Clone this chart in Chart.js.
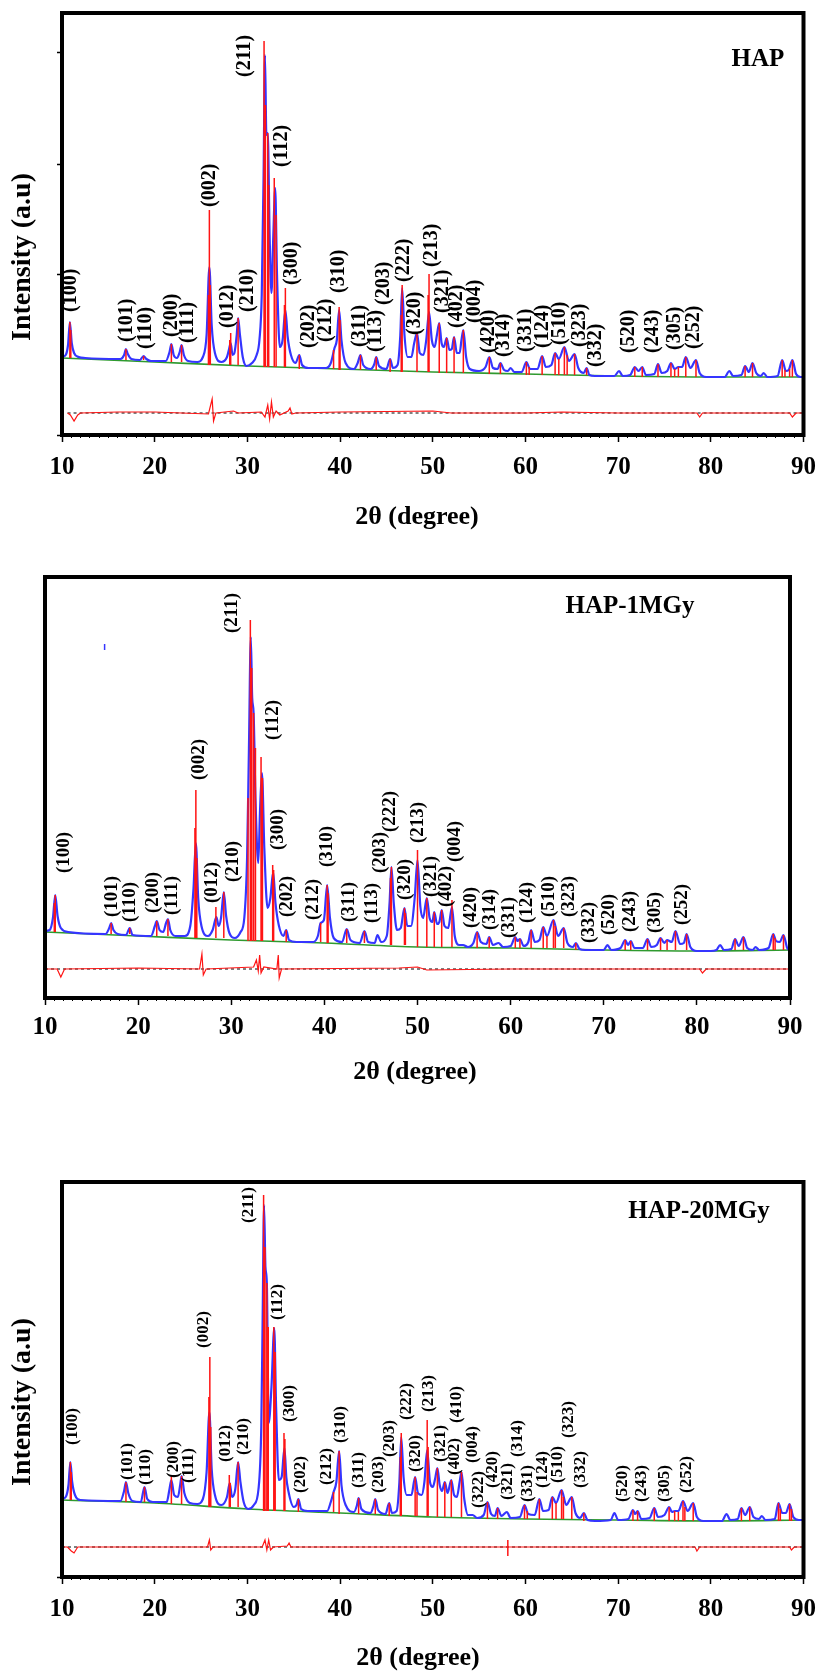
<!DOCTYPE html>
<html>
<head>
<meta charset="utf-8">
<script src="https://cdn.jsdelivr.net/npm/chart.js@4.4.1/dist/chart.umd.min.js"></script>
<style>
  html, body { margin: 0; padding: 0; background: #fff; }
  #wrap { position: relative; width: 827px; height: 1671px; }
  canvas { position: absolute; left: 0; }
</style>
</head>
<body>
<div id="wrap">
  <canvas id="c1" width="827" height="545" style="top:0"></canvas>
  <canvas id="c2" width="827" height="545" style="top:545px"></canvas>
  <canvas id="c3" width="827" height="581" style="top:1090px"></canvas>
</div>
<script>
'use strict';

// ── Data: HAP ────────────────────────────────────────────────────────────────

const p1Profile = [
  [10.0,78],[10.4,80],[10.65,90],[10.85,113],[11.05,92],[11.3,82],[11.8,78],[12.5,77],
  [16.3,76],[16.7,80],[16.9,86],[17.1,81],[17.5,76],[18.4,75],[18.8,79],[19.1,76],[19.6,74],
  [21.2,74],[21.6,83],[21.8,91],[22.05,80],[22.4,77],[22.7,83],[22.9,90],[23.15,80],[23.6,74],
  [24.6,73],[25.2,78],[25.6,100],[25.9,168],[26.15,110],[26.5,82],[27.2,73],[27.8,78],[28.0,85],
  [28.2,92],[28.4,80],[28.6,82],[28.85,100],[29.0,117],[29.2,100],[29.5,78],[29.9,69],[30.5,72],
  [31.0,80],[31.3,95],[31.55,140],[31.75,260],[31.9,380],[32.05,300],[32.2,302],[32.4,200],
  [32.6,142],[32.8,200],[33.0,247],[33.2,160],[33.5,88],[33.8,95],[34.1,125],[34.35,98],[34.7,80],
  [35.2,72],[35.6,80],[35.9,70],[36.6,67],[38.5,67],[39.0,72],[39.4,87],[39.65,95],[39.9,125],
  [40.15,95],[40.6,72],[41.5,66],[41.9,72],[42.2,80],[42.5,70],[43.3,66],[43.7,71],[43.9,78],
  [44.2,69],[45.0,66],[45.4,76],[45.7,67],[46.2,70],[46.5,100],[46.7,147],[46.95,100],[47.3,78],
  [47.7,78],[48.0,92],[48.3,102],[48.6,82],[49.0,80],[49.3,95],[49.6,123],[49.9,95],[50.2,88],
  [50.45,100],[50.7,112],[50.95,92],[51.2,88],[51.5,97],[51.8,85],[52.05,86],[52.3,98],[52.6,82],
  [52.9,82],[53.1,95],[53.3,105],[53.6,78],[54.0,66],[55.0,64],[55.7,68],[56.1,78],[56.5,67],
  [57.0,66],[57.3,72],[57.7,65],[58.1,64],[58.4,67],[58.8,63],[59.6,63],[60.1,73],[60.5,66],
  [61.3,66],[61.8,79],[62.2,68],[62.8,70],[63.2,82],[63.6,76],[64.2,88],[64.7,74],[65.3,81],
  [65.7,67],[66.3,62],[66.6,67],[66.9,60],[67.5,59],[69.6,59],[70.1,64],[70.5,59],[71.3,60],
  [71.8,68],[72.2,64],[72.6,68],[73.0,60],[73.9,61],[74.3,71],[74.7,62],[75.3,64],[75.7,72],
  [76.1,66],[76.5,68],[76.9,68],[77.3,78],[77.8,67],[78.4,75],[78.8,62],[79.5,58],[81.5,58],
  [82.0,64],[82.4,59],[83.3,60],[83.7,69],[84.1,63],[84.5,72],[84.9,62],[85.4,59],[85.7,62],
  [86.1,58],[87.2,59],[87.7,75],[88.1,64],[88.4,65],[88.8,75],[89.2,61],[89.7,58],[90.0,58]
];
// reflection sticks: [2θ, foot, top]
const p1Sticks = [
  [10.85,77,113],[10.95,77,105],[16.9,75,86],[18.8,75,79],[21.8,73,91],[22.9,73,90],
  [25.8,70,140],[25.9,70,225],[26.0,70,150],[28.1,70,95],[28.2,70,102],[29.0,70,117],
  [31.8,68,394],[31.95,68,330],[32.2,68,302],[32.3,68,250],[32.9,68,257],[33.1,68,220],
  [34.0,68,130],[34.1,68,147],[35.6,66,80],[39.3,66,85],[39.9,65,128],[40.0,65,115],
  [42.2,65,80],[43.9,65,78],[45.4,63,76],[46.6,63,120],[46.7,63,150],[48.3,63,102],
  [49.5,63,140],[49.6,63,161],[50.7,62,112],[51.5,62,97],[52.3,62,98],[53.3,62,105],
  [56.1,61,78],[57.3,61,72],[60.1,60,73],[60.4,60,68],[61.8,60,79],[63.2,60,82],[63.6,60,76],
  [64.2,60,88],[64.5,60,80],[65.3,60,81],[66.6,60,67],[71.8,58,68],[72.6,58,68],[74.3,58,71],
  [75.7,58,72],[76.1,58,66],[76.5,58,68],[77.3,58,78],[78.4,58,75],[83.7,58,69],[84.5,58,72],
  [87.7,58,75],[88.0,58,65],[88.5,58,66],[88.8,58,75]
];
const p1Background = [[10,77],[20,73],[30,69],[40,66],[50,63],[60,61],[70,59],[80,58],[90,58]];
const p1Diff = [
  [10.6,22],[10.9,20],[11.3,14],[11.7,20],[12.0,22],[16,23],[20,23],[25.8,21],[26.2,36],[26.35,14],
  [26.6,22],[28.5,24],[29,22],[31.5,23],[31.9,18],[32.2,30],[32.4,16],[32.6,33],[32.8,18],[33.1,24],
  [33.5,20],[34.4,24],[34.6,27],[34.8,21],[35.2,22],[40,23],[50,24],[52,22],[60,22],[64,23],[70,22],
  [78.5,22],[78.8,18],[79.1,22],[85,22],[88.5,22],[88.8,18],[89.2,22],[90,22]
];
const p1Zero = [[10.6,22],[90,22]];
const p1Hkl  = ['(100)','(101)','(110)','(200)','(111)','(002)','(012)','(210)','(211)','(112)','(300)',
  '(202)','(212)','(310)','(311)','(113)','(203)','(222)','(320)','(213)','(321)','(402)','(004)',
  '(420)','(314)','(331)','(124)','(510)','(323)','(332)','(520)','(243)','(305)','(252)'];
const p1HklX = [10.9,17.0,19.0,21.8,23.6,26.0,27.9,30.0,29.7,33.7,34.8,36.6,38.5,39.9,42.1,43.9,44.7,
  46.9,48.1,49.9,51.1,52.6,54.5,56.1,57.7,60.0,61.9,63.7,65.9,67.6,71.2,73.7,76.1,78.2];
const p1HklY = [123,93,86,98,92,228,107,123,358,268,150,87,93,142,88,83,130,153,100,168,122,107,112,
  82,78,83,87,90,88,68,82,82,85,86];
const p1YTicks = [0,161,271,383];

// ── Data: HAP-1MGy ───────────────────────────────────────────────────────────

const p2Profile = [
  [10.0,67],[10.5,68],[10.85,80],[11.1,103],[11.35,82],[11.7,70],[12.5,66],[16.5,64],[16.9,70],
  [17.1,75],[17.35,68],[17.8,64],[18.7,63],[19.1,70],[19.4,63],[21.4,62],[21.8,72],[22.0,77],
  [22.3,68],[22.7,66],[23.0,75],[23.2,79],[23.45,68],[24.0,62],[25.0,62],[25.6,72],[25.95,110],
  [26.2,155],[26.45,100],[26.8,72],[27.5,62],[28.0,68],[28.4,81],[28.65,72],[28.9,80],[29.2,106],
  [29.45,82],[29.8,65],[30.4,60],[31.0,66],[31.4,80],[31.7,140],[31.9,250],[32.1,361],[32.25,300],
  [32.4,285],[32.6,200],[32.9,135],[33.1,190],[33.3,225],[33.55,150],[33.9,90],[34.2,100],[34.5,126],
  [34.75,95],[35.1,73],[35.6,62],[35.9,68],[36.2,58],[37.0,56],[38.8,56],[39.3,62],[39.6,75],
  [39.95,78],[40.3,113],[40.6,80],[41.0,60],[41.9,56],[42.4,69],[42.8,58],[43.8,55],[44.3,67],
  [44.7,56],[45.4,55],[45.7,63],[46.1,56],[46.7,62],[47.0,95],[47.2,131],[47.45,95],[47.8,68],
  [48.2,70],[48.6,90],[48.9,72],[49.3,72],[49.7,100],[50.0,138],[50.3,92],[50.6,80],[51.0,100],
  [51.3,80],[51.6,76],[51.8,86],[52.1,74],[52.35,76],[52.6,88],[52.9,72],[53.3,70],[53.7,91],
  [54.0,62],[54.5,53],[54.9,53],[55.4,51],[56.0,55],[56.4,66],[56.8,56],[57.4,54],[57.7,61],
  [58.1,53],[58.7,55],[59.2,51],[60.0,52],[60.5,61],[60.75,57],[61.0,59],[61.4,52],[61.9,56],
  [62.2,68],[62.6,56],[63.1,58],[63.5,71],[63.9,62],[64.6,78],[65.1,62],[65.7,70],[66.1,55],
  [66.7,51],[67.0,55],[67.4,49],[68.0,48],[70.0,48],[70.4,53],[70.8,48],[71.8,50],[72.3,58],
  [72.6,53],[72.9,57],[73.3,50],[74.2,50],[74.7,59],[75.1,51],[75.7,53],[76.1,60],[76.5,55],
  [76.8,58],[77.3,56],[77.7,67],[78.2,54],[78.6,55],[78.9,64],[79.3,51],[80.0,47],[81.5,47],
  [82.1,48],[82.5,53],[82.9,48],[83.7,49],[84.1,59],[84.5,52],[85.0,61],[85.4,50],[86.0,48],
  [86.3,51],[86.7,48],[87.7,50],[88.2,64],[88.5,57],[88.9,56],[89.3,63],[89.7,50],[90.0,48]
];
const p2Sticks = [
  [11.0,66,95],[11.1,66,103],[17.1,64,75],[19.1,64,70],[22.0,62,77],[23.2,62,79],[26.1,60,170],
  [26.2,60,208],[26.3,60,140],[28.35,60,91],[29.2,60,106],[31.8,57,200],[32.05,57,378],[32.2,57,330],
  [32.4,57,285],[32.6,57,250],[33.2,57,241],[33.35,57,220],[34.45,57,133],[34.55,57,128],[35.9,56,68],
  [39.6,56,75],[40.3,55,113],[40.4,55,105],[42.4,55,69],[44.3,55,67],[47.1,53,120],[47.2,53,131],
  [48.6,53,90],[48.7,53,85],[50.0,51,148],[51.0,51,100],[51.8,51,86],[52.6,51,88],[53.7,51,98],
  [56.4,50,66],[57.7,50,61],[60.5,50,61],[61.0,50,59],[62.2,50,68],[63.5,50,71],[63.9,50,62],
  [64.6,50,78],[64.8,50,72],[65.7,50,70],[67.0,48,55],[72.3,48,58],[72.9,48,57],[74.7,48,59],
  [76.1,48,60],[76.8,48,58],[77.7,48,67],[78.9,48,64],[84.1,48,59],[85.0,48,61],[88.2,48,64],
  [88.4,48,60],[89.3,48,63]
];
const p2Background = [[10,66],[20,62],[30,58],[40,55],[50,51],[60,50],[70,48],[80,47],[90,48]];
const p2Diff = [
  [10,29],[11.3,29],[11.7,21],[12.1,29],[20,30],[26.6,29],[26.85,44],[27.0,23],[27.3,29],[32.4,31],
  [32.7,38],[32.9,27],[33.05,43],[33.2,25],[33.5,31],[34.9,29],[35.05,43],[35.15,20],[35.4,29],
  [48,30],[50,31],[51,28],[60,29],[70,29],[80.3,29],[80.6,25],[81,29],[90,29]
];
const p2Zero = [[10,29],[90,29]];
const p2Speck = [[16.4,351]];
const p2Hkl  = p1Hkl;
const p2HklX = [12.0,17.2,19.1,21.6,23.7,26.5,27.9,30.2,30.1,34.5,35.0,36.0,38.8,40.3,42.7,45.1,46.0,
  47.1,48.7,50.1,51.5,53.1,54.0,55.8,57.8,59.8,61.8,64.1,66.3,68.4,70.6,72.8,75.5,78.4];
const p2HklY = [125,81,76,85,83,218,95,116,365,258,148,81,78,131,76,75,125,166,98,155,101,91,136,
  70,68,60,75,81,81,55,63,66,65,73];
const p2YTicks = [];

// ── Data: HAP-20MGy ──────────────────────────────────────────────────────────

const p3Profile = [
  [10.0,78],[10.4,80],[10.7,92],[10.9,115],[11.1,95],[11.4,82],[12.0,77],[16.3,76],[16.7,86],
  [16.9,95],[17.15,84],[17.6,76],[18.5,75],[18.9,90],[19.2,78],[19.8,75],[21.3,75],[21.6,88],
  [21.8,97],[22.1,82],[22.5,80],[22.75,92],[22.9,101],[23.2,84],[23.8,74],[24.6,73],[25.2,78],
  [25.6,105],[25.9,165],[26.15,108],[26.5,82],[27.2,72],[27.8,80],[28.1,94],[28.35,80],[28.7,88],
  [29.0,115],[29.25,95],[29.6,75],[30.1,68],[30.7,72],[31.2,88],[31.5,150],[31.65,260],[31.8,372],
  [31.95,310],[32.1,294],[32.3,154],[32.6,190],[32.9,249],[33.1,170],[33.4,97],[33.7,100],[34.0,129],
  [34.2,100],[34.4,87],[35.0,70],[35.3,72],[35.5,78],[35.8,68],[36.5,66],[38.6,66],[39.0,75],
  [39.3,85],[39.6,95],[39.9,126],[40.15,92],[40.6,72],[41.5,65],[41.8,71],[42.0,79],[42.3,68],
  [43.3,64],[43.6,71],[43.8,78],[44.1,67],[44.9,63],[45.3,74],[45.6,64],[46.1,66],[46.4,95],
  [46.6,140],[46.85,100],[47.2,82],[47.7,82],[48.1,100],[48.4,84],[48.8,82],[49.1,95],[49.4,127],
  [49.7,95],[50.0,90],[50.25,98],[50.5,109],[50.75,92],[51.0,86],[51.3,95],[51.6,84],[52.0,97],
  [52.3,82],[52.6,80],[52.9,95],[53.1,105],[53.4,78],[53.8,62],[54.3,62],[54.8,59],[55.5,62],
  [55.9,75],[56.3,63],[56.7,61],[57.0,69],[57.4,61],[58.0,65],[58.4,59],[59.4,60],[59.9,72],
  [60.3,63],[61.0,62],[61.5,78],[61.9,66],[62.5,67],[62.9,80],[63.3,74],[63.9,87],[64.4,72],
  [65.0,80],[65.4,64],[65.9,59],[66.3,64],[66.7,57],[67.5,56],[69.2,57],[69.6,64],[70.0,57],
  [71.1,58],[71.6,67],[71.85,63],[72.1,66],[72.5,58],[73.4,59],[73.9,69],[74.3,60],[75.0,62],
  [75.5,70],[75.8,65],[76.1,66],[76.5,66],[77.0,76],[77.5,66],[78.1,74],[78.5,60],[79.2,56],
  [81.2,56],[81.7,63],[82.1,57],[82.9,58],[83.3,69],[83.7,62],[84.2,70],[84.6,60],[85.2,58],
  [85.5,61],[85.9,57],[86.9,58],[87.3,74],[87.7,64],[88.1,64],[88.5,73],[88.9,60],[89.5,57],[90.0,57]
];
const p3Sticks = [
  [10.9,77,115],[11.0,77,105],[16.9,75,95],[18.9,75,90],[21.8,73,102],[22.9,73,101],[25.85,70,180],
  [25.95,70,220],[26.05,70,150],[28.05,70,102],[28.15,70,94],[29.0,70,115],[31.75,66,382],[31.9,66,330],
  [32.1,66,294],[32.25,66,250],[32.85,66,250],[33.0,66,225],[33.95,66,144],[34.05,66,138],[35.5,65,78],
  [39.3,65,85],[39.9,63,126],[42.0,63,79],[43.8,63,78],[45.3,61,74],[46.5,61,120],[46.6,61,144],
  [48.1,61,100],[48.3,61,85],[49.4,61,157],[49.5,61,130],[50.5,60,109],[51.3,60,95],[52.0,60,97],
  [53.1,60,105],[55.9,58,75],[57.0,58,69],[59.9,58,72],[60.2,58,66],[61.5,58,78],[62.9,58,80],
  [63.3,58,74],[63.9,58,87],[64.1,58,80],[65.0,58,80],[66.3,56,64],[71.6,56,67],[72.1,56,66],
  [73.9,56,69],[75.5,56,70],[76.1,56,66],[76.5,56,65],[77.0,56,76],[77.2,56,70],[78.1,56,74],
  [83.3,56,69],[84.2,56,70],[87.3,56,74],[87.5,56,68],[88.5,56,73],[88.7,56,68]
];
const p3Background = [[10,77],[20,74],[30,68],[40,64],[50,60],[60,58],[70,57],[80,56],[90,57]];
const p3Diff = [
  [10,30],[10.6,30],[11.0,26],[11.3,24],[11.7,30],[25.7,30],[25.9,37],[26.05,27],[26.3,30],[31.6,30],
  [31.9,37],[32.1,27],[32.3,37],[32.5,27],[32.8,30],[34.3,31],[34.5,34],[34.7,30],[50,30],[60,30],
  [78.3,30],[78.5,26],[78.8,30],[88.5,30],[88.7,27],[89,30],[90,30]
];
const p3Zero = [[10,30],[90,30]];
const p3DiffMark = [[58.1,29]];
const p3Hkl  = ['(100)','(101)','(110)','(200)','(111)','(002)','(012)','(210)','(211)','(112)','(300)',
  '(202)','(212)','(310)','(311)','(203)','(203)','(222)','(320)','(213)','(321)','(402)','(410)','(004)',
  '(322)','(420)','(321)','(314)','(331)','(124)','(510)','(323)','(332)','(520)','(243)','(305)','(252)'];
const p3HklX = [11.15,17.1,19.0,22.0,23.7,25.3,27.65,29.55,30.1,33.3,34.6,35.7,38.6,40.05,42.0,44.2,45.3,
  47.2,48.2,49.5,50.9,52.4,52.55,54.3,54.9,56.5,58.1,59.2,60.2,61.9,63.5,64.7,66.0,70.5,72.5,75.0,77.35];
const p3HklY = [132,97,92,99,94,229,115,122,354,257,155,84,92,134,89,84,120,157,105,165,115,102,154,
  114,69,89,77,120,75,89,94,139,89,75,75,75,84];
const p3YTicks = [0];

// ── Styling ──────────────────────────────────────────────────────────────────

const SERIF = '"Liberation Serif", "Times New Roman", serif';
const RED   = '#ff1414';
const BLUE  = '#3535ff';
const GREEN = '#2f9a2f';

const panels = [
  { id: 'c1', name: 'HAP', profile: p1Profile, sticks: p1Sticks, background: p1Background,
    diff: p1Diff, zero: p1Zero, marks: [], markColor: BLUE, markSize: 3,
    hkl: p1Hkl, hklX: p1HklX, hklY: p1HklY, hklSize: 20, yTicks: p1YTicks,
    yMax: 422, padTop: 13, padRight: 13, yWidth: 62, xHeight: 110, tickPad: 11,
    nameAt: [758, 60], yTitleAt: [23, 257], xTitleAt: [417, 517] },
  { id: 'c2', name: 'HAP-1MGy', profile: p2Profile, sticks: p2Sticks, background: p2Background,
    diff: p2Diff, zero: p2Zero, marks: p2Speck, markColor: BLUE, markSize: 3,
    hkl: p2Hkl, hklX: p2HklX, hklY: p2HklY, hklSize: 19, yTicks: p2YTicks,
    yMax: 421, padTop: 32, padRight: 37, yWidth: 45, xHeight: 92, tickPad: 8,
    nameAt: [630, 62], yTitleAt: null, xTitleAt: [415, 527] },
  { id: 'c3', name: 'HAP-20MGy', profile: p3Profile, sticks: p3Sticks, background: p3Background,
    diff: p3Diff, zero: p3Zero, marks: p3DiffMark, markColor: RED, markSize: 8,
    hkl: p3Hkl, hklX: p3HklX, hklY: p3HklY, hklSize: 17, yTicks: p3YTicks,
    yMax: 395, padTop: 92, padRight: 23, yWidth: 62, xHeight: 94, tickPad: 11,
    nameAt: [699, 122], yTitleAt: [23, 312], xTitleAt: [418, 568] },
];

// ── Helpers ──────────────────────────────────────────────────────────────────

const toPoints = pairs => pairs.map(p => ({ x: p[0], y: p[1] }));

function toSticks(triples) {
  const out = [];
  triples.forEach(t => {
    out.push({ x: t[0], y: t[1] }, { x: t[0], y: t[2] }, { x: t[0], y: null });
  });
  return out;
}

function makeDeco(p) {
  return {
    id: 'deco',
    afterDraw(chart) {
      const { ctx, chartArea: a, scales: { x, y } } = chart;
      ctx.save();
      ctx.fillStyle = '#000';

      // hkl labels, reading upward
      ctx.font = `bold ${p.hklSize}px ${SERIF}`;
      ctx.textAlign = 'left';
      ctx.textBaseline = 'middle';
      p.hkl.forEach((t, i) => {
        ctx.save();
        ctx.translate(x.getPixelForValue(p.hklX[i]), y.getPixelForValue(p.hklY[i]));
        ctx.rotate(-Math.PI / 2);
        ctx.fillText(t, 0, 0);
        ctx.restore();
      });

      // frame
      ctx.lineWidth = 4;
      ctx.strokeStyle = '#000';
      ctx.strokeRect(a.left, a.top, a.right - a.left, a.bottom - a.top);

      // sample name
      ctx.textAlign = 'center';
      ctx.font = `bold 25px ${SERIF}`;
      ctx.fillText(p.name, p.nameAt[0], p.nameAt[1]);

      // axis titles
      ctx.font = `bold 26px ${SERIF}`;
      ctx.fillText('2θ (degree)', p.xTitleAt[0], p.xTitleAt[1]);
      if (p.yTitleAt) {
        ctx.font = `bold 28px ${SERIF}`;
        ctx.translate(p.yTitleAt[0], p.yTitleAt[1]);
        ctx.rotate(-Math.PI / 2);
        ctx.fillText('Intensity (a.u)', 0, 0);
      }
      ctx.restore();
    },
  };
}

// ── Charts ───────────────────────────────────────────────────────────────────

function buildPanel(p) {
  new Chart(document.getElementById(p.id), {
    type: 'line',
    data: {
      datasets: [
        { data: toSticks(p.sticks), borderColor: RED, borderWidth: 1.5, pointRadius: 0,
          spanGaps: false, order: 0 },
        { data: toPoints(p.marks), showLine: false, pointStyle: 'line', rotation: 90,
          pointRadius: p.markSize, borderColor: p.markColor, borderWidth: 1.5, order: 0 },
        { data: toPoints(p.diff), borderColor: RED, borderWidth: 1.2, pointRadius: 0, order: 1 },
        { data: toPoints(p.profile), borderColor: BLUE, borderWidth: 2.2, pointRadius: 0,
          cubicInterpolationMode: 'monotone', order: 2 },
        { data: toPoints(p.background), borderColor: GREEN, borderWidth: 1.6, pointRadius: 0,
          cubicInterpolationMode: 'monotone', order: 3 },
        { data: toPoints(p.zero), borderColor: '#000', borderWidth: 1, borderDash: [3, 3],
          pointRadius: 0, order: 4 },
      ].map(d => Object.assign({ xAxisID: 'x', yAxisID: 'y', fill: false }, d)),
    },
    options: {
      responsive: false,
      animation: false,
      events: [],
      layout: { padding: { left: 0, top: p.padTop, right: p.padRight, bottom: 0 } },
      plugins: { legend: { display: false }, tooltip: { enabled: false } },
      scales: {
        x: {
          type: 'linear', min: 10, max: 90, position: 'bottom', weight: 1,
          afterFit: s => { s.height = p.xHeight; },
          border: { display: false },
          grid: { drawOnChartArea: false, tickLength: 7, tickWidth: 1.5, tickColor: '#000' },
          ticks: {
            stepSize: 10, autoSkip: false, maxRotation: 0, padding: p.tickPad, color: '#000',
            font: { family: SERIF, size: 25, weight: 'bold' },
          },
        },
        xMinor: {
          type: 'linear', min: 10, max: 90, position: 'bottom', weight: 0,
          afterFit: s => { s.height = 0; },
          border: { display: false },
          grid: { drawOnChartArea: false, tickLength: 3, tickWidth: 1, tickColor: '#000' },
          ticks: { display: false, stepSize: 1, autoSkip: false, maxTicksLimit: 100 },
        },
        y: {
          type: 'linear', min: 0, max: p.yMax, position: 'left',
          afterFit: s => { s.width = p.yWidth; },
          afterBuildTicks: s => { s.ticks = p.yTicks.map(v => ({ value: v })); },
          border: { display: false },
          grid: { display: p.yTicks.length > 0, drawOnChartArea: false, tickLength: 5,
                  tickWidth: 1.5, tickColor: '#000' },
          ticks: { display: false },
        },
      },
    },
    plugins: [makeDeco(p)],
  });
}

panels.forEach(buildPanel);
</script>
</body>
</html>
